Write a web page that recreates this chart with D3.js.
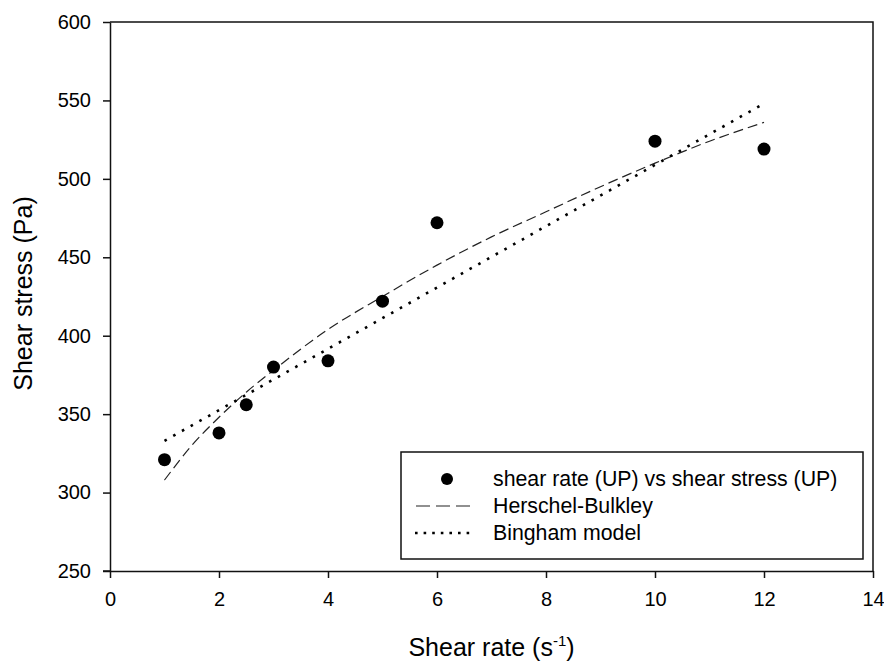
<!DOCTYPE html>
<html>
<head>
<meta charset="utf-8">
<script src="https://cdn.jsdelivr.net/npm/d3@7"></script>
<style>
  html, body { margin: 0; padding: 0; background: #fff; }
  svg { display: block; font-family: "Liberation Sans", Arial, sans-serif; }
</style>
</head>
<body>
<svg id="chart" width="884" height="663"></svg>
<script>
// ---- data ----
const shearRate   = [1, 2, 2.5, 3, 4, 5, 6, 10, 12];
const shearStress = [321, 338, 356, 380, 384, 422, 472, 524, 519];

// Herschel-Bulkley fitted curve
const hbRate   = [1, 1.5, 2, 2.5, 3, 4, 5, 6, 7, 8, 9, 10, 11, 12];
const hbStress = [308, 330, 348, 364, 378, 404, 425, 445, 463, 479, 495, 510, 524, 536];

// Bingham model line (straight), end points
const binghamRate   = [1, 12];
const binghamStress = [333, 548];

const xTicks = [0, 2, 4, 6, 8, 10, 12, 14];
const yTicks = [250, 300, 350, 400, 450, 500, 550, 600];

const legendLabels = ["shear rate (UP) vs shear stress (UP)", "Herschel-Bulkley", "Bingham model"];

// ---- drawing ----
const svg = d3.select("#chart");
const mLeft = 110, mRight = 873, mTop = 22, mBottom = 571;

const x = d3.scaleLinear().domain([0, 14]).range([mLeft, mRight]);
const y = d3.scaleLinear().domain([250, 600]).range([mBottom, mTop]);

const axisColor = "#111";

// frame (top & right)
svg.append("path")
  .attr("d", `M${mLeft},${mTop}H${mRight}V${mBottom}`)
  .attr("fill", "none").attr("stroke", axisColor).attr("stroke-width", 1.5);

// x axis
const xAxis = svg.append("g").attr("transform", `translate(0,${mBottom})`)
  .call(d3.axisBottom(x).tickValues(xTicks).tickSize(7).tickPadding(14).tickSizeOuter(0).tickFormat(d3.format("d")));
// y axis
const yAxis = svg.append("g").attr("transform", `translate(${mLeft},0)`)
  .call(d3.axisLeft(y).tickValues(yTicks).tickSize(7).tickPadding(12).tickSizeOuter(0).tickFormat(d3.format("d")));

[xAxis, yAxis].forEach(g => {
  g.select(".domain").attr("stroke", axisColor).attr("stroke-width", 1.5);
  g.selectAll(".tick line").attr("stroke", axisColor).attr("stroke-width", 1.5);
  g.selectAll(".tick text").attr("fill", "#000")
    .style("font-size", "20px").style("font-family", "'Liberation Sans', Arial, sans-serif");
});
svg.append("line").attr("x1", mLeft - 7).attr("x2", mLeft).attr("y1", mBottom).attr("y2", mBottom)
  .attr("stroke", axisColor).attr("stroke-width", 1.5);

// Herschel-Bulkley curve
const hbData = hbRate.map((r, i) => [r, hbStress[i]]);
svg.append("path")
  .datum(hbData)
  .attr("d", d3.line().x(d => x(d[0])).y(d => y(d[1])).curve(d3.curveMonotoneX))
  .attr("fill", "none").attr("stroke", "#222").attr("stroke-width", 1.2)
  .attr("stroke-dasharray", "10,5");

// Bingham line
const bData = binghamRate.map((r, i) => [r, binghamStress[i]]);
svg.append("path")
  .datum(bData)
  .attr("d", d3.line().x(d => x(d[0])).y(d => y(d[1])))
  .attr("fill", "none").attr("stroke", "#000").attr("stroke-width", 2.6)
  .attr("stroke-dasharray", "2.6,7.4");

// data points
svg.append("g").selectAll("circle")
  .data(shearRate.map((r, i) => [r, shearStress[i]]))
  .join("circle")
  .attr("cx", d => x(d[0])).attr("cy", d => y(d[1]))
  .attr("r", 6.5).attr("fill", "#000");

// axis titles
svg.append("text")
  .attr("x", (mLeft + mRight) / 2).attr("y", 656)
  .attr("text-anchor", "middle")
  .style("font-size", "25px").attr("fill", "#000")
  .call(t => {
    t.append("tspan").text("Shear rate (s");
    t.append("tspan").text("-1").style("font-size", "15px").attr("dy", -10);
    t.append("tspan").text(")").attr("dy", 10);
  });

svg.append("text")
  .attr("transform", `translate(32,${(mTop + mBottom) / 2 - 3}) rotate(-90)`)
  .attr("text-anchor", "middle")
  .style("font-size", "25px").attr("fill", "#000")
  .text("Shear stress (Pa)");

// legend
const lg = svg.append("g");
lg.append("rect").attr("x", 401).attr("y", 452).attr("width", 462).attr("height", 107)
  .attr("fill", "#fff").attr("stroke", axisColor).attr("stroke-width", 1.5);
const rowY = [479, 506, 533];
lg.append("circle").attr("cx", 447).attr("cy", rowY[0]).attr("r", 6).attr("fill", "#000");
lg.append("line").attr("x1", 416).attr("x2", 470).attr("y1", rowY[1]).attr("y2", rowY[1])
  .attr("stroke", "#222").attr("stroke-width", 1.2).attr("stroke-dasharray", "14,6");
lg.append("line").attr("x1", 415).attr("x2", 475).attr("y1", rowY[2]).attr("y2", rowY[2])
  .attr("stroke", "#000").attr("stroke-width", 2.6).attr("stroke-dasharray", "2.6,6");
lg.selectAll("text.lbl").data(legendLabels).join("text")
  .attr("class", "lbl")
  .attr("x", 493).attr("y", (d, i) => rowY[i] + 7)
  .style("font-size", "21.3px").attr("fill", "#000")
  .text(d => d);
</script>
</body>
</html>
